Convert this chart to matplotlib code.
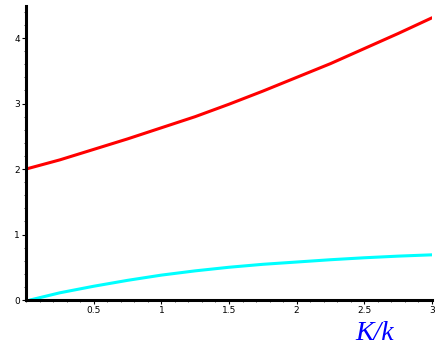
import matplotlib
matplotlib.use("Agg")
import matplotlib.pyplot as plt
from matplotlib.ticker import MultipleLocator

# Data
red_x = [0.0, 0.25, 0.5, 0.75, 1.0, 1.25, 1.5, 1.75, 2.0, 2.25, 2.5, 2.75, 3.0]
red_y = [2.00, 2.14, 2.30, 2.46, 2.63, 2.80, 2.99, 3.19, 3.40, 3.61, 3.84, 4.07, 4.31]
cyan_x = [0.03, 0.15, 0.25, 0.5, 0.75, 1.0, 1.25, 1.5, 1.75, 2.0, 2.25, 2.5, 2.75, 3.0]
cyan_y = [0.00, 0.06, 0.11, 0.21, 0.30, 0.38, 0.445, 0.50, 0.545, 0.58, 0.615, 0.645, 0.67, 0.69]
x_ticks = [0.5, 1, 1.5, 2, 2.5, 3]
x_tick_labels = ["0.5", "1", "1.5", "2", "2.5", "3"]
y_ticks = [0, 1, 2, 3, 4]
y_tick_labels = ["0", "1", "2", "3", "4"]
x_label = "K/k"

fig = plt.figure(figsize=(4.42, 3.47), dpi=100)
ax = fig.add_axes([26/442, 1 - 300/347, (432 - 26)/442, (300 - 6)/347])
ax.plot(red_x, red_y, color="#ff0000", lw=2.2, solid_capstyle="round")
ax.plot(cyan_x, cyan_y, color="#00ffff", lw=2.2, solid_capstyle="round")

ax.set_xlim(0, 3)
ax.set_ylim(0, 4.49)
for s in ["top", "right"]:
    ax.spines[s].set_visible(False)
for s in ["left", "bottom"]:
    ax.spines[s].set_linewidth(2.2)
ax.set_xticks(x_ticks)
ax.set_xticklabels(x_tick_labels)
ax.set_yticks(y_ticks)
ax.set_yticklabels(y_tick_labels)
ax.xaxis.set_minor_locator(MultipleLocator(0.1))
ax.yaxis.set_minor_locator(MultipleLocator(0.2))
ax.tick_params(which="major", length=3, width=0.8, labelsize=6.5, pad=1.5, direction="out")
ax.tick_params(which="minor", length=1.5, width=0.5, direction="out")

fig.text(375/442, 1 - 333/347, x_label, color="#0000ff", fontsize=20,
         family="Liberation Serif", style="italic", ha="center", va="center")

fig.savefig("out.png", dpi=100)
